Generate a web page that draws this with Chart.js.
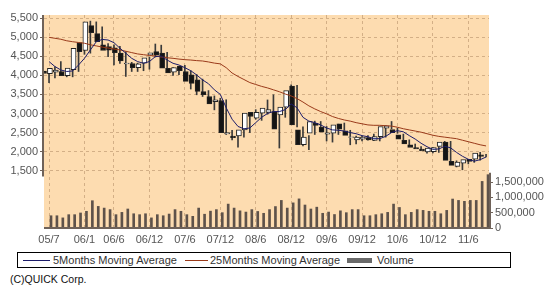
<!DOCTYPE html>
<html>
<head>
<meta charset="utf-8">
<script src="https://cdn.jsdelivr.net/npm/chart.js@4"></script>
<style>
  body { margin: 0; background: #fff; width: 552px; height: 292px; position: relative; font-family: "Liberation Sans", Arial, sans-serif; }
  #chart { position: absolute; left: 0; top: 0; }
  .legend { position: absolute; left: 17px; top: 252px; width: 492px; height: 14px; border: 1px solid #000; font-size: 11px; color: #333; line-height: 14px; }
  .legend span { position: absolute; top: 0; white-space: nowrap; }
  .legend i { position: absolute; top: 7px; height: 1px; }
  .copy { position: absolute; left: 10px; top: 273px; font-size: 10.5px; color: #111; }
</style>
</head>
<body>
<canvas id="chart" width="552" height="250"></canvas>
<div class="legend">
  <i style="left:5px;width:27px;background:#1c1c6a"></i><span style="left:35px">5Months Moving Average</span>
  <i style="left:167px;width:23px;background:#9a3a1a"></i><span style="left:192px">25Months Moving Average</span>
  <i style="left:329px;top:5px;width:25px;height:5px;background:#6a6a6a"></i><span style="left:359px">Volume</span>
</div>
<div class="copy">(C)QUICK Corp.</div>
<script>
// monthly candles, 2005/7 .. 2011/9
const months = [
  '05/7','05/8','05/9','05/10','05/11','05/12',
  '06/1','06/2','06/3','06/4','06/5','06/6','06/7','06/8','06/9','06/10','06/11','06/12',
  '07/1','07/2','07/3','07/4','07/5','07/6','07/7','07/8','07/9','07/10','07/11','07/12',
  '08/1','08/2','08/3','08/4','08/5','08/6','08/7','08/8','08/9','08/10','08/11','08/12',
  '09/1','09/2','09/3','09/4','09/5','09/6','09/7','09/8','09/9','09/10','09/11','09/12',
  '10/1','10/2','10/3','10/4','10/5','10/6','10/7','10/8','10/9','10/10','10/11','10/12',
  '11/1','11/2','11/3','11/4','11/5','11/6','11/7','11/8','11/9'
];
const xTickLabels = ['05/7','06/1','06/6','06/12','07/6','07/12','08/6','08/12','09/6','09/12','10/6','10/12','11/6'];

const open = [
  4110,4040,4080,4100,3990,4150,4860,4650,5300,5090,4800,4750,4720,4580,4300,
  4310,4200,4320,4530,4620,4580,4180,4080,4240,4100,4010,3880,3575,3445,3310,
  3340,2465,2410,2415,2570,3030,2880,3010,3030,3050,2965,3165,3720,2570,2180,
  2485,2745,2640,2460,2485,2730,2545,2370,2310,2330,2370,2295,2395,2615,2580,
  2440,2295,2180,2110,2070,1990,2000,2140,2250,1745,1615,1700,1800,1800,1920
];
const high = [
  4150,4220,4360,4150,4200,4730,5230,5420,5400,5270,4830,4800,4760,4620,4340,
  4320,4320,4480,4820,4790,4600,4200,4230,4260,4120,4020,3900,3600,3460,3400,
  3360,2560,2450,2600,3030,3100,3060,3355,3490,3080,3250,3750,3740,2650,2420,
  2800,2790,2660,2530,2720,2750,2560,2410,2400,2420,2460,2410,2680,2790,2620,
  2460,2310,2200,2130,2090,2110,2130,2270,2270,1760,1740,1800,1830,1980,1930
];
const low = [
  3810,3930,4040,3960,3960,4100,4550,4580,4980,4790,4490,4270,4310,3970,4100,
  4100,4120,4160,4480,4500,4150,4000,4020,4040,3640,3490,3445,3400,3095,3250,
  2450,2310,2120,2380,2500,2850,2820,2980,2950,2095,2900,3100,2650,2150,2050,
  2450,2640,2280,2250,2450,2560,2180,2200,2280,2300,2290,2280,2380,2600,2480,
  2300,2180,2090,2050,1960,1970,1980,2120,1750,1600,1525,1680,1720,1780,1860
];
const close = [
  4050,4180,4140,3990,4190,4710,4620,5400,5120,4880,4650,4660,4590,4380,4320,
  4200,4300,4460,4590,4530,4190,4060,4200,4120,3840,3790,3580,3490,3250,3355,
  2500,2500,2365,2570,3010,2920,3030,3140,3100,2590,3165,3600,2700,2180,2380,
  2790,2685,2510,2490,2700,2590,2425,2390,2380,2380,2310,2395,2660,2675,2500,
  2330,2200,2110,2070,2020,2095,2110,2250,1770,1640,1730,1790,1745,1965,1875
];
const ma5 = [
  4360,4230,4140,4100,4115,4270,4445,4665,4880,4940,4925,4855,4710,4580,4445,
  4360,4315,4360,4490,4505,4400,4315,4270,4200,4120,4010,3880,3780,3620,3500,
  3150,2850,2660,2600,2620,2760,2900,3000,3050,3050,3100,3250,3150,2900,2800,
  2760,2700,2620,2570,2560,2540,2500,2470,2420,2390,2340,2340,2400,2500,2550,
  2520,2420,2330,2220,2130,2060,2070,2140,2100,1980,1880,1800,1750,1790,1860
];
const ma25 = [
  4995,4970,4945,4905,4880,4860,4840,4800,4770,4740,4715,4690,4665,4630,4595,
  4560,4540,4520,4505,4480,4460,4445,4425,4410,4400,4385,4375,4350,4320,4300,
  4200,4060,3970,3890,3810,3760,3710,3670,3620,3570,3510,3460,3390,3300,3200,
  3120,3050,2990,2920,2870,2830,2800,2760,2730,2700,2690,2690,2680,2670,2640,
  2600,2570,2540,2510,2470,2430,2400,2380,2360,2340,2300,2260,2220,2180,2150
];
const volume = [
  400000,400000,330000,435000,435000,490000,545000,890000,705000,650000,
  600000,435000,510000,620000,465000,435000,465000,330000,435000,400000,
  455000,600000,545000,435000,380000,650000,450000,550000,600000,500000,
  780000,650000,560000,520000,600000,540000,480000,600000,700000,900000,
  650000,820000,950000,750000,620000,680000,480000,520000,440000,560000,
  500000,600000,600000,400000,400000,435000,465000,510000,780000,670000,
  435000,510000,600000,575000,545000,545000,465000,575000,945000,900000,
  870000,900000,900000,1520000,1740000
];
const priceTicks = [1500, 2000, 2500, 3000, 3500, 4000, 4500, 5000, 5500];
const volumeTicks = [0, 500000, 1000000, 1500000];

const pts = arr => arr.map((v, i) => ({ x: i, y: v }));
const up = i => close[i] >= open[i];

const plotBg = {
  id: 'plotBg',
  beforeDraw(chart) {
    const { ctx, chartArea: a } = chart;
    ctx.save();
    ctx.fillStyle = '#fddcb0';
    ctx.fillRect(a.left, a.top, a.right - a.left, a.bottom - a.top);
    ctx.restore();
  },
  afterDraw(chart) {
    const { ctx, chartArea: a, scales } = chart;
    ctx.save();
    ctx.strokeStyle = '#6f6259';
    ctx.lineWidth = 2;
    ctx.beginPath();
    ctx.moveTo(a.left - 1, a.top);
    ctx.lineTo(a.left - 1, scales.y.getPixelForValue(1350));
    ctx.moveTo(a.left, a.bottom);
    ctx.lineTo(a.right + 2, a.bottom);
    ctx.moveTo(a.right + 1, a.bottom);
    ctx.lineTo(a.right + 1, scales.yv.getPixelForValue(1800000));
    ctx.stroke();
    ctx.restore();
  }
};

const tickFont = { family: 'Liberation Sans, Arial, sans-serif', size: 11 };
const gridColor = 'rgba(196,160,120,0.75)';

new Chart(document.getElementById('chart'), {
  type: 'bar',
  data: {
    datasets: [
      { type: 'line', label: '5Months Moving Average', data: pts(ma5), borderColor: '#1c1c6a', borderWidth: 1, pointRadius: 0, order: 0 },
      { type: 'line', label: '25Months Moving Average', data: pts(ma25), borderColor: '#9a3a1a', borderWidth: 1, pointRadius: 0, order: 1 },
      {
        label: 'body', data: open.map((o, i) => ({ x: i, y: [o, close[i]] })),
        backgroundColor: ctx => up(ctx.dataIndex) ? '#ffffff' : '#141414',
        borderColor: '#222', borderWidth: 1, borderSkipped: false, barThickness: 5, order: 2
      },
      {
        label: 'wick', data: low.map((l, i) => ({ x: i, y: [l, high[i]] })),
        backgroundColor: '#3a3a3a', barThickness: 1, order: 3
      },
      {
        label: 'Volume', data: pts(volume), yAxisID: 'yv',
        backgroundColor: '#5e524a', barThickness: 2, order: 4
      }
    ]
  },
  options: {
    responsive: false,
    devicePixelRatio: 1,
    animation: false,
    layout: { padding: { top: 15, left: 0, right: 0, bottom: 0 } },
    plugins: { legend: { display: false }, tooltip: { enabled: false } },
    scales: {
      x: {
        type: 'linear', min: -0.85, max: 74.5, offset: false,
        afterBuildTicks: s => { s.ticks = xTickLabels.map(l => ({ value: months.indexOf(l) })); },
        afterFit: s => { s.height = 22; s.paddingLeft = 0; s.paddingRight = 0; },
        ticks: { callback: v => months[v], autoSkip: false, maxRotation: 0, font: tickFont, color: '#555', padding: 5 },
        grid: { color: gridColor, drawTicks: false, offset: false },
        border: { display: false, dash: [3, 3] }
      },
      y: {
        position: 'left', min: 0, max: 5580,
        afterBuildTicks: s => { s.ticks = priceTicks.map(v => ({ value: v })); },
        afterFit: s => { s.width = 44; },
        ticks: { callback: v => v.toLocaleString('en-US'), font: tickFont, color: '#555', padding: 2 },
        grid: { color: gridColor, tickColor: '#6f6259', tickLength: 4, tickBorderDash: [] },
        border: { display: false, dash: [3, 3] }
      },
      yv: {
        position: 'right', min: 0, max: 6950000,
        afterBuildTicks: s => { s.ticks = volumeTicks.map(v => ({ value: v })); },
        afterFit: s => { s.width = 63; },
        ticks: { callback: v => v.toLocaleString('en-US'), font: tickFont, color: '#555', padding: 2 },
        grid: { drawOnChartArea: false, tickColor: '#6f6259', tickLength: 4 },
        border: { display: false }
      }
    }
  },
  plugins: [plotBg]
});
</script>
</body>
</html>
